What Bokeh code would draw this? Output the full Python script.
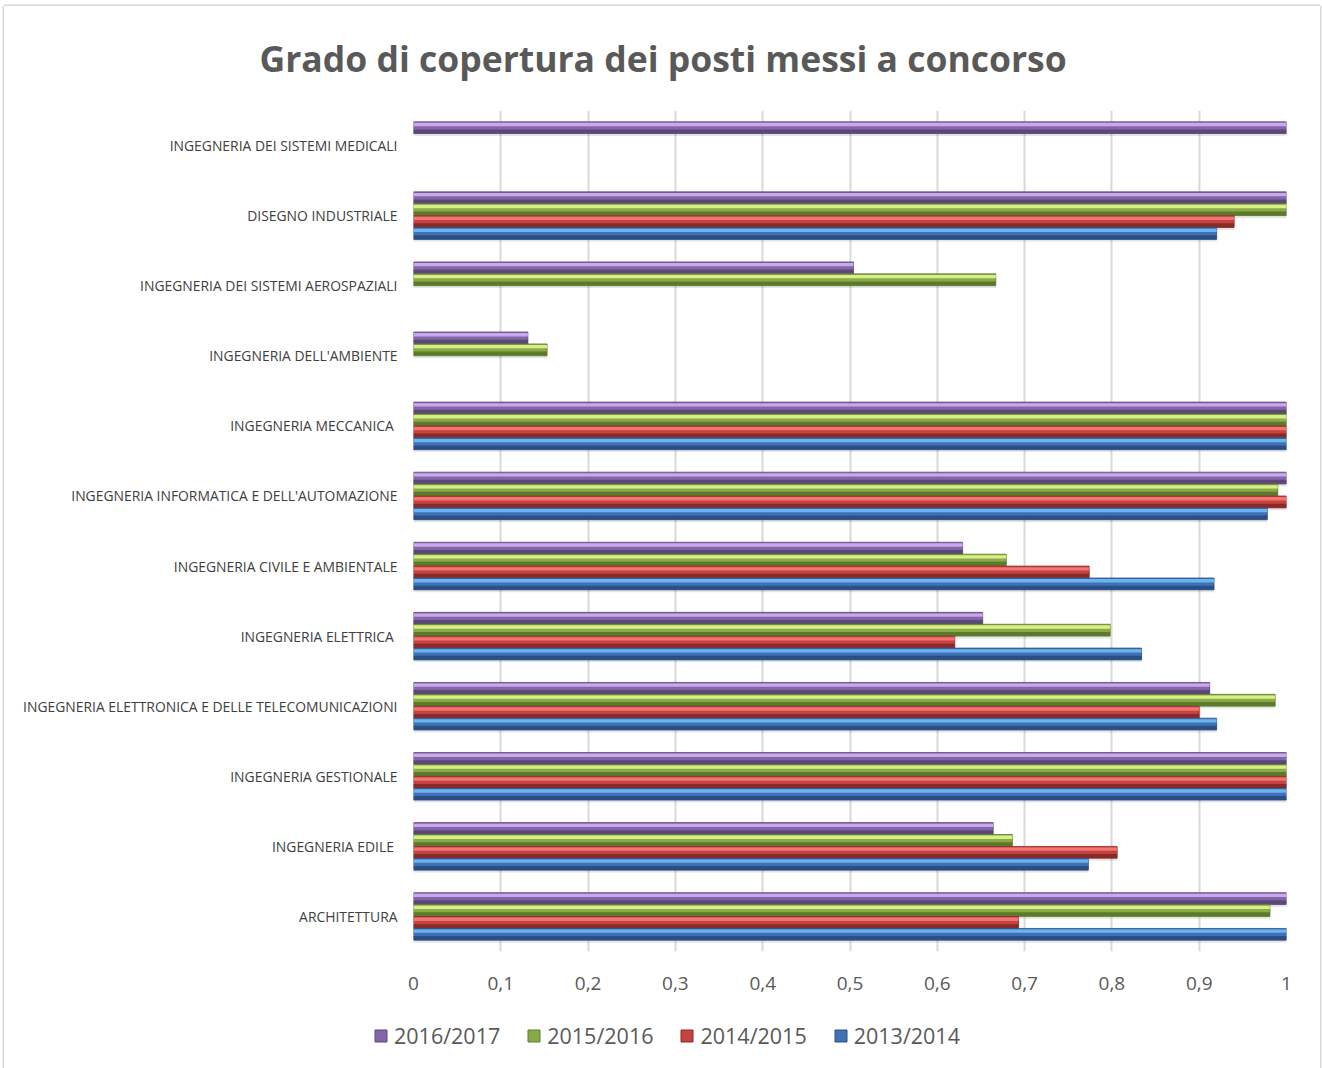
import math
from bokeh.plotting import figure
from bokeh.models import (ColumnDataSource, FixedTicker, Legend, LegendItem, Title)
from bokeh.embed import file_html
from bokeh.resources import INLINE

NaN = float("nan")

# Categories, top to bottom as in the chart
categories = [
    "INGEGNERIA DEI SISTEMI MEDICALI",
    "DISEGNO INDUSTRIALE",
    "INGEGNERIA DEI SISTEMI AEROSPAZIALI",
    "INGEGNERIA DELL'AMBIENTE",
    "INGEGNERIA MECCANICA ",
    "INGEGNERIA INFORMATICA E DELL'AUTOMAZIONE",
    "INGEGNERIA CIVILE E AMBIENTALE",
    "INGEGNERIA ELETTRICA ",
    "INGEGNERIA ELETTRONICA E DELLE TELECOMUNICAZIONI",
    "INGEGNERIA GESTIONALE",
    "INGEGNERIA EDILE ",
    "ARCHITETTURA",
]

series_names = ["2016/2017", "2015/2016", "2014/2015", "2013/2014"]

v_2016_2017 = [1.0, 1.0, 0.504, 0.131, 1.0, 1.0, 0.629, 0.652, 0.912, 1.0, 0.664, 1.0]
v_2015_2016 = [NaN, 1.0, 0.667, 0.153, 1.0, 0.990, 0.679, 0.798, 0.987, 1.0, 0.686, 0.981]
v_2014_2015 = [NaN, 0.940, NaN, NaN, 1.0, 1.0, 0.774, 0.620, 0.900, 1.0, 0.806, 0.693]
v_2013_2014 = [NaN, 0.920, NaN, NaN, 1.0, 0.978, 0.917, 0.834, 0.920, 1.0, 0.773, 1.0]

x_ticks = [0, 0.1, 0.2, 0.3, 0.4, 0.5, 0.6, 0.7, 0.8, 0.9, 1]
x_tick_labels = ["0", "0,1", "0,2", "0,3", "0,4", "0,5", "0,6", "0,7", "0,8", "0,9", "1"]

all_values = [v_2016_2017, v_2015_2016, v_2014_2015, v_2013_2014]

# colours: (highlight, main, shade)
palette = [
    ("#c9a8ec", "#8466a8", "#5c4878"),
    ("#d8ef86", "#8aa94a", "#5c7a2c"),
    ("#f07572", "#c4423f", "#8a2a28"),
    ("#6db3f0", "#3f72b4", "#2b4f84"),
]

n = len(categories)
ypos = [n - 1 - i for i in range(n)]

BORDER = "#d9d9d9"

p = figure(frame_width=873, frame_height=841, output_backend="svg", toolbar_location=None,
           x_range=(0, 1), y_range=(-0.5, n - 0.5),
           min_border_left=409, min_border_right=34, min_border_top=104,
           min_border_bottom=50)
p.outline_line_color = None
p.background_fill_color = "white"
p.border_fill_color = "white"
p.styles = {"margin-left": "4px", "margin-top": "6px",
            "box-shadow": f"-1.5px 0 0 {BORDER}, 1.5px 0 0 {BORDER}, 0 -1.5px 0 {BORDER}"}

title = Title(text="Grado di copertura dei posti messi a concorso", align="left",
              vertical_align="top",
              text_font="Open Sans", text_font_size="35.5px", text_font_style="bold",
              text_color="#595959", offset=-154, standoff=54)
p.add_layout(title, "above")

bar_h = 0.168
offsets = [0.255, 0.085, -0.085, -0.255]
for vals, name, off, (hi, main, sh) in zip(all_values, series_names, offsets, palette):
    src = ColumnDataSource(dict(y=[y + off for y in ypos], right=vals,
                                ys=[y + off - 0.035 for y in ypos]))
    # soft shadow
    p.hbar(y="ys", right="right", left=0, height=bar_h, source=src,
           fill_color="#000000", fill_alpha=0.10, line_color=None)
    p.hbar(y="y", right="right", left=0, height=bar_h, source=src,
           fill_color=main, line_color=sh, line_width=0.8)
    src_hi = ColumnDataSource(dict(y=[y + off + bar_h * 0.27 for y in ypos], right=vals))
    p.hbar(y="y", right="right", left=0, height=bar_h * 0.28, source=src_hi,
           fill_color=hi, line_color=None)
    src_sh = ColumnDataSource(dict(y=[y + off - bar_h * 0.32 for y in ypos], right=vals))
    p.hbar(y="y", right="right", left=0, height=bar_h * 0.34, source=src_sh,
           fill_color=sh, line_color=None)

# axes
p.xaxis.ticker = FixedTicker(ticks=x_ticks)
p.xaxis.major_label_overrides = {t: l for t, l in zip(x_ticks, x_tick_labels)}
p.xaxis.axis_line_color = None
p.xaxis.major_tick_line_color = None
p.xaxis.minor_tick_line_color = None
p.xaxis.major_label_text_font = "Open Sans"
p.xaxis.major_label_text_font_size = "19px"
p.xaxis.major_label_text_color = "#595959"
p.xaxis.major_label_standoff = 19

p.yaxis.ticker = FixedTicker(ticks=ypos)
p.yaxis.major_label_overrides = {y: c for y, c in zip(ypos, categories)}
p.yaxis.axis_line_color = None
p.yaxis.major_tick_line_color = None
p.yaxis.minor_tick_line_color = None
p.yaxis.major_label_text_font = "Open Sans"
p.yaxis.major_label_text_font_size = "13.9px"
p.yaxis.major_label_text_color = "#404040"
p.yaxis.major_label_standoff = 10

p.xgrid.grid_line_color = "#d9d9d9"
p.xgrid.grid_line_width = 2
p.ygrid.grid_line_color = None

# legend strip (separate root below the chart)
lg = figure(width=1316, height=67, output_backend="svg", toolbar_location=None,
            x_range=(0, 1), y_range=(0, 1), min_border=0)
lg.axis.visible = False
lg.grid.grid_line_color = None
lg.outline_line_color = None
lg.border_fill_color = "white"
lg.background_fill_color = "white"
lg.styles = {"margin-left": "4px",
             "box-shadow": f"-1.5px 0 0 {BORDER}, 1.5px 0 0 {BORDER}"}
legend_items = []
for name, (hi, main, sh) in zip(series_names, palette):
    # legend proxy glyph, kept outside the visible range
    r = lg.hbar(y=[-5], right=[1], left=0, height=0.1, fill_color=main, line_color=sh,
                line_width=1)
    legend_items.append(LegendItem(label=name, renderers=[r]))

legend = Legend(items=legend_items, orientation="horizontal", location=(369, 18),
                glyph_width=15, glyph_height=15, label_standoff=6, spacing=26,
                padding=0, margin=0, border_line_color=None, background_fill_alpha=0,
                label_text_font="Open Sans", label_text_font_size="21.5px",
                label_text_color="#595959")
lg.add_layout(legend, "center")

open("out.html", "w").write(file_html([p, lg], INLINE))
